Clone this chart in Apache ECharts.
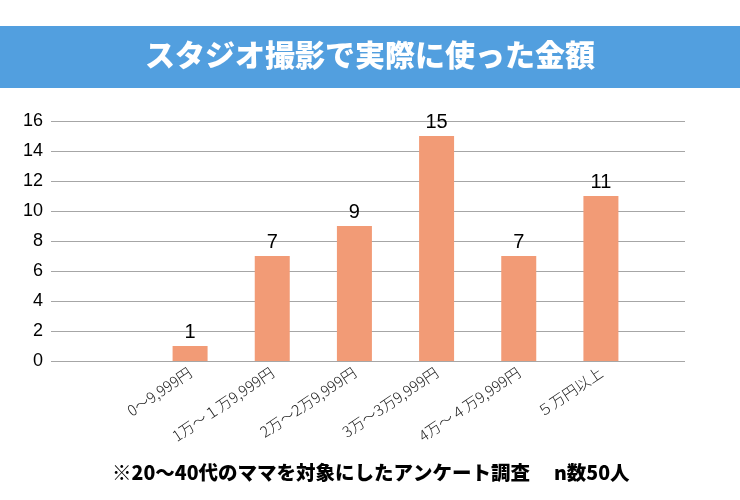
<!DOCTYPE html>
<html>
<head>
<meta charset="utf-8">
<script src="https://cdn.jsdelivr.net/npm/echarts@6/dist/echarts.min.js"></script>
<style>
html,body{margin:0;padding:0;background:#fff;}
#c{width:740px;height:500px;}
</style>
</head>
<body>
<div id="c"></div>
<script>
var titleText = 'スタジオ撮影で実際に使った金額';
var noteText = '※20～40代のママを対象にしたアンケート調査　 n数50人';
var categories = ['0～9,999円', '1万～１万9,999円', '2万～2万9,999円', '3万～3万9,999円', '4万～４万9,999円', '５万円以上'];
var counts = [1, 7, 9, 15, 7, 11];
var yTicks = [0, 2, 4, 6, 8, 10, 12, 14, 16];

var chart = echarts.init(document.getElementById('c'), null, {renderer: 'canvas'});
var yMin = yTicks[0], yMax = yTicks[yTicks.length - 1], yStep = yTicks[1] - yTicks[0];
chart.setOption({
  animation: false,
  backgroundColor: '#ffffff',
  graphic: [
    {type: 'rect', left: 0, top: 26, shape: {width: 740, height: 62}, style: {fill: '#529fdf'}, z: 0},
    {type: 'text', left: 'center', top: 40, style: {text: titleText, fill: '#ffffff', font: '900 30px "Noto Sans CJK JP"'}, z: 1},
    {type: 'text', left: 112, top: 463, style: {text: noteText, fill: '#000000', font: '900 19.5px "Noto Sans CJK JP"'}, z: 1}
  ],
  grid: [
    {left: 51, right: 55, top: 121, bottom: 139},
    {left: 149, right: 98, top: 121, bottom: 139}
  ],
  xAxis: [
    {gridIndex: 0, type: 'category', data: categories, show: false},
    {gridIndex: 1, type: 'category', data: categories,
     axisLine: {show: false}, axisTick: {show: false},
     axisLabel: {interval: 0, rotate: 34, margin: 10, color: '#222', fontSize: 15,
                 fontFamily: '"Noto Sans CJK JP"', fontWeight: 300}}
  ],
  yAxis: [
    {gridIndex: 0, type: 'value', min: yMin, max: yMax, interval: yStep,
     axisLine: {show: false}, axisTick: {show: false},
     axisLabel: {color: '#000', fontSize: 18, fontFamily: '"Liberation Sans", Arial', margin: 8},
     splitLine: {lineStyle: {color: '#a6a6a6', width: 1}}},
    {gridIndex: 1, type: 'value', min: yMin, max: yMax, interval: yStep, show: false,
     splitLine: {show: false}}
  ],
  series: [
    {type: 'bar', xAxisIndex: 1, yAxisIndex: 1, data: counts, barWidth: 35,
     itemStyle: {color: '#f29b76'},
     label: {show: true, position: 'top', distance: 4, color: '#000', fontSize: 20,
             fontFamily: '"Liberation Sans", Arial'}}
  ]
});
</script>
</body>
</html>
